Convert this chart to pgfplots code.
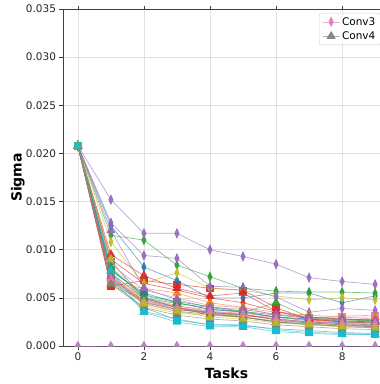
\documentclass[border=0pt]{standalone}
\usepackage{fontspec}
\setmainfont{DejaVu Sans}
\usepackage{pgfplots}
\usepackage{pgfplotstable}
\pgfplotsset{compat=1.18}
\definecolor{tb}{HTML}{1F77B4}
\definecolor{to}{HTML}{FF7F0E}
\definecolor{tg}{HTML}{2CA02C}
\definecolor{tr}{HTML}{D62728}
\definecolor{tp}{HTML}{9467BD}
\definecolor{tbr}{HTML}{8C564B}
\definecolor{tpk}{HTML}{E377C2}
\definecolor{tgy}{HTML}{7F7F7F}
\definecolor{tol}{HTML}{BCBD22}
\definecolor{tc}{HTML}{17BECF}
\definecolor{mauve}{HTML}{B07FB8}
\pgfplotstableread{
x d0 d1 d2 d3 d4 d5 d6 d7 d8 d9 dx
0 0.0208 0.0208 0.0208 0.0208 0.0208 0.0208 0.0208 0.0208 0.0208 0.0208 0.0208
1 0.0125 0.0070 0.0115 0.0090 0.0152 0.0068 0.0085 0.0075 0.0108 0.0080 0.0128
2 0.0082 0.0050 0.0110 0.0065 0.0117 0.0048 0.0058 0.0050 0.0065 0.0052 0.0094
3 0.0068 0.0042 0.0084 0.0058 0.0117 0.0040 0.0050 0.0040 0.0076 0.0045 0.0091
4 0.0050 0.0036 0.0072 0.0050 0.0100 0.0035 0.0042 0.0034 0.0060 0.0038 0.0062
5 0.0050 0.0034 0.0060 0.0045 0.0093 0.0032 0.0040 0.0030 0.0058 0.0035 0.0061
6 0.0055 0.0030 0.0057 0.0036 0.0085 0.0028 0.0032 0.0026 0.0052 0.0030 0.0051
7 0.0055 0.0027 0.0056 0.0030 0.0071 0.0025 0.0030 0.0024 0.0048 0.0026 0.0035
8 0.0045 0.0026 0.0056 0.0028 0.0067 0.0023 0.0030 0.0022 0.0050 0.0024 0.0039
9 0.0052 0.0025 0.0055 0.0027 0.0064 0.0022 0.0028 0.0020 0.0048 0.0022 0.0037
}\diam
\pgfplotstableread{
x t0 t1 t2 t3 t4 t5 t6 t7 t8 t9 z
0 0.0208 0.0208 0.0208 0.0208 0.0208 0.0208 0.0208 0.0208 0.0208 0.0208 0
1 0.0078 0.0066 0.0082 0.0095 0.0120 0.0072 0.0070 0.0064 0.0090 0.0078 0
2 0.0055 0.0060 0.0050 0.0073 0.0060 0.0044 0.0046 0.0040 0.0044 0.0035 0
3 0.0045 0.0055 0.0044 0.0060 0.0048 0.0036 0.0040 0.0032 0.0036 0.0025 0
4 0.0038 0.0045 0.0040 0.0052 0.0040 0.0033 0.0036 0.0028 0.0030 0.0020 0
5 0.0036 0.0040 0.0035 0.0055 0.0038 0.0030 0.0033 0.0026 0.0028 0.0020 0
6 0.0030 0.0035 0.0045 0.0036 0.0033 0.0025 0.0028 0.0022 0.0024 0.0015 0
7 0.0028 0.0032 0.0030 0.0028 0.0030 0.0022 0.0025 0.0020 0.0022 0.0013 0
8 0.0026 0.0030 0.0028 0.0025 0.0028 0.0021 0.0024 0.0018 0.0020 0.0012 0
9 0.0025 0.0030 0.0026 0.0025 0.0027 0.0020 0.0023 0.0017 0.0019 0.0012 0
}\tri
\pgfplotstableread{
x s0 s1 s2 s3 s4 s5 s6 s7 s8 s9
0 0.0208 0.0208 0.0208 0.0208 0.0208 0.0208 0.0208 0.0208 0.0208 0.0208
1 0.0088 0.0063 0.0079 0.0062 0.0074 0.0067 0.0076 0.0066 0.0073 0.0070
2 0.0050 0.0048 0.0053 0.0068 0.0046 0.0045 0.0049 0.0040 0.0042 0.0036
3 0.0040 0.0038 0.0046 0.0064 0.0038 0.0038 0.0041 0.0027 0.0034 0.0028
4 0.0032 0.0034 0.0041 0.0060 0.0034 0.0035 0.0038 0.0022 0.0032 0.0022
5 0.0030 0.0031 0.0036 0.0058 0.0032 0.0033 0.0035 0.0021 0.0030 0.0022
6 0.0025 0.0030 0.0032 0.0040 0.0028 0.0027 0.0030 0.0018 0.0025 0.0017
7 0.0023 0.0027 0.0029 0.0027 0.0025 0.0024 0.0028 0.0016 0.0023 0.0014
8 0.0020 0.0028 0.0027 0.0025 0.0024 0.0022 0.0031 0.0014 0.0022 0.0013
9 0.0019 0.0027 0.0026 0.0024 0.0024 0.0021 0.0032 0.0013 0.0021 0.0012
}\sqr
\pgfplotsset{
  base/.style={color=#1, line width=0.7pt, opacity=0.6, mark options={solid, opacity=0.9}},
  dm/.style={base=#1, mark=diamond*, mark size=4.6pt, every mark/.append style={xscale=0.62}},
  tg/.style={base=#1, mark=triangle*, mark size=4.6pt},
  sq/.style={base=#1, mark=square*, mark size=3.3pt},
}
\begin{document}
\begin{tikzpicture}[x=1pt,y=1pt]
\useasboundingbox (0,0) rectangle (380,384);
\clip (0,0) rectangle (380,384);
\begin{axis}[
  at={(63pt,38pt)}, anchor=south west,
  scale only axis, width=327pt, height=337pt,
  xmin=-0.45, xmax=9.45, ymin=0, ymax=0.035,
  xtick={0,2,4,6,8},
  ytick={0,0.005,0.010,0.015,0.020,0.025,0.030,0.035},
  scaled y ticks=false,
  yticklabel style={/pgf/number format/.cd, fixed, fixed zerofill, precision=3},
  /pgf/number format/assume math mode=true,
  ticklabel style={font=\fontsize{10.5}{12}\selectfont, color=black!85},
  tick align=outside, major tick length=3.5pt,
  tick style={color=black!75, line width=0.6pt},
  axis line style={color=black!75, line width=0.8pt},
  grid=major, major grid style={color=black!12, line width=0.6pt},
  xlabel={\bfseries Tasks}, ylabel={\bfseries Sigma},
  label style={font=\fontsize{14}{16}\selectfont},
  xlabel style={at={(axis description cs:0.5,-0.080)}, anchor=center},
  ylabel style={at={(axis description cs:-0.138,0.5)}, anchor=center},
  clip marker paths=true,
  legend style={at={(0.783,0.988)}, anchor=north west, draw=black!20, rounded corners=2pt,
    fill=white, fill opacity=0.8, text opacity=1, font=\fontsize{10.5}{12}\selectfont,
    row sep=1pt},
  legend cell align=left,
]
\addlegendimage{dm=tpk}
\addlegendentry{Conv3}
\addlegendimage{tg=tgy}
\addlegendentry{Conv4}
\addplot[sq=tb] table[x=x,y=s0]{\sqr};
\addplot[sq=to] table[x=x,y=s1]{\sqr};
\addplot[sq=tg] table[x=x,y=s2]{\sqr};
\addplot[sq=tr] table[x=x,y=s3]{\sqr};
\addplot[sq=tp] table[x=x,y=s4]{\sqr};
\addplot[sq=tbr] table[x=x,y=s5]{\sqr};
\addplot[sq=tpk] table[x=x,y=s6]{\sqr};
\addplot[sq=tgy] table[x=x,y=s7]{\sqr};
\addplot[sq=tol] table[x=x,y=s8]{\sqr};
\addplot[sq=tc] table[x=x,y=s9]{\sqr};
\addplot[dm=tb] table[x=x,y=d0]{\diam};
\addplot[dm=to] table[x=x,y=d1]{\diam};
\addplot[dm=tg] table[x=x,y=d2]{\diam};
\addplot[dm=tr] table[x=x,y=d3]{\diam};
\addplot[dm=tp] table[x=x,y=d4]{\diam};
\addplot[dm=tbr] table[x=x,y=d5]{\diam};
\addplot[dm=tpk] table[x=x,y=d6]{\diam};
\addplot[dm=tgy] table[x=x,y=d7]{\diam};
\addplot[dm=tol] table[x=x,y=d8]{\diam};
\addplot[dm=tc] table[x=x,y=d9]{\diam};
\addplot[dm=tp] table[x=x,y=dx]{\diam};
\addplot[tg=tb] table[x=x,y=t0]{\tri};
\addplot[tg=to] table[x=x,y=t1]{\tri};
\addplot[tg=tg] table[x=x,y=t2]{\tri};
\addplot[tg=tr] table[x=x,y=t3]{\tri};
\addplot[tg=tp] table[x=x,y=t4]{\tri};
\addplot[tg=tbr] table[x=x,y=t5]{\tri};
\addplot[tg=tpk] table[x=x,y=t6]{\tri};
\addplot[tg=tgy] table[x=x,y=t7]{\tri};
\addplot[tg=tol] table[x=x,y=t8]{\tri};
\addplot[tg=tc] table[x=x,y=t9]{\tri};
\addplot[tg=mauve] table[x=x,y=z]{\tri};
\end{axis}
\end{tikzpicture}
\end{document}
